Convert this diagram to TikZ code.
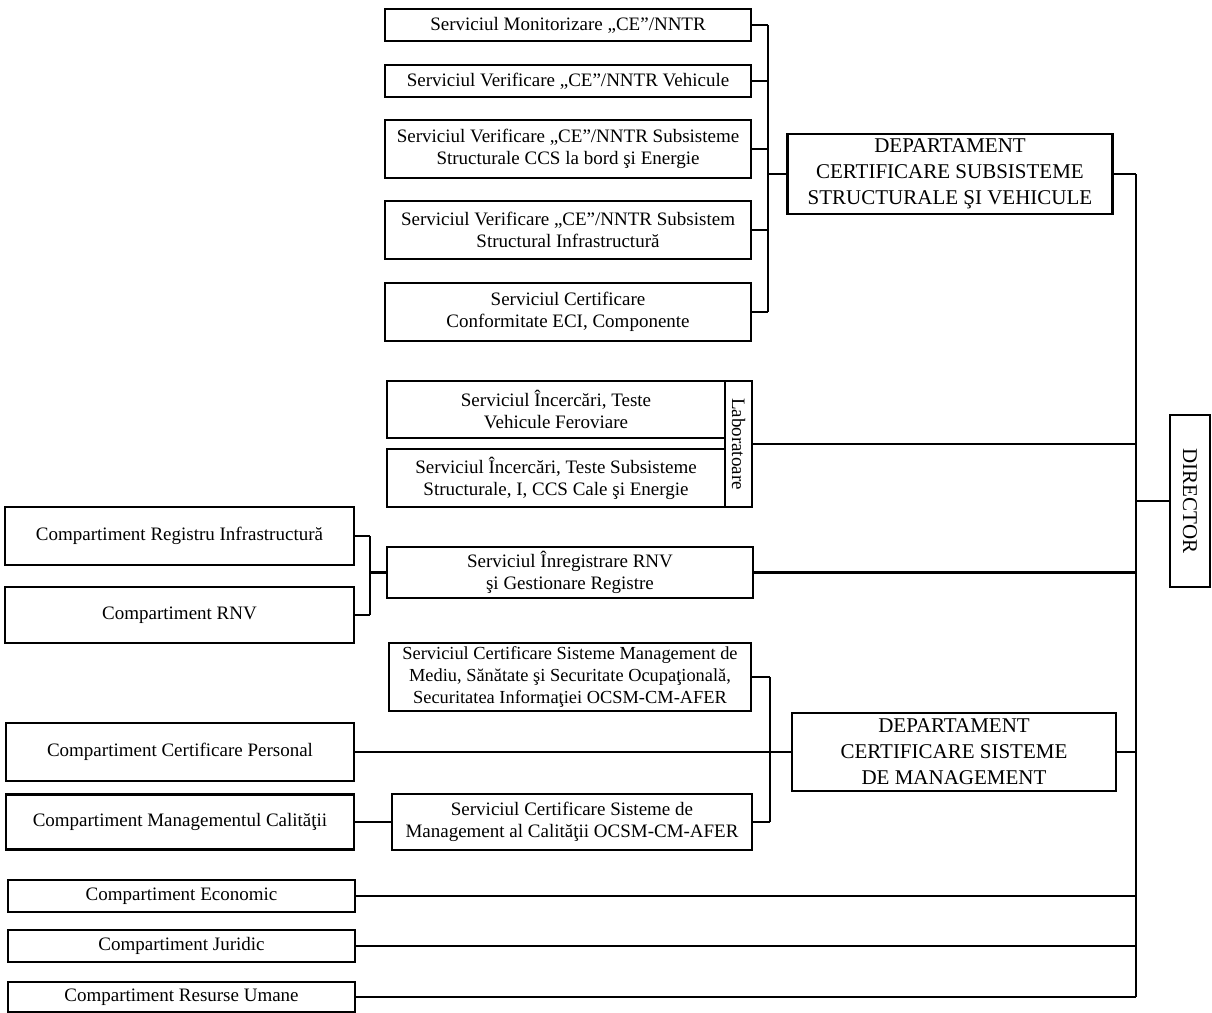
\documentclass[tikz,border=0pt]{standalone}
\usepackage{fontspec}
\setmainfont{Liberation Serif}
\usepackage{tikz}
\usetikzlibrary{positioning,calc}

\begin{document}
\begin{tikzpicture}[
  x=0.5pt, y=-0.5pt,
  unit/.style={draw, line width=1.1pt, inner sep=1pt, align=center,
               font=\fontsize{9.5}{11}\selectfont},
  dept/.style={unit, font=\fontsize{10.5}{13}\selectfont},
  link/.style={line width=1.1pt},
]
  \useasboundingbox (0,0) rectangle (1212,1013);

  % Serviciile departamentului de subsisteme structurale
  \node[unit, minimum width=183pt, minimum height=16pt] (mon) at (568,25)
    {Serviciul Monitorizare „CE”/NNTR};
  \node[unit, minimum width=183pt, minimum height=16pt] (veh) at (568,81)
    {Serviciul Verificare „CE”/NNTR Vehicule};
  \node[unit, minimum width=183pt, minimum height=29pt] (ccs) at (568,149)
    {Serviciul Verificare „CE”/NNTR Subsisteme\\Structurale CCS la bord şi Energie};
  \node[unit, minimum width=183pt, minimum height=29pt] (inf) at (568,230)
    {Serviciul Verificare „CE”/NNTR Subsistem\\Structural Infrastructură};
  \node[unit, minimum width=183pt, minimum height=29pt] (eci) at (568,312)
    {Serviciul Certificare\\Conformitate ECI, Componente};
  \node[dept, minimum width=162.5pt, minimum height=40pt] (dss) at (950,174)
    {DEPARTAMENT\\CERTIFICARE SUBSISTEME\\STRUCTURALE ŞI VEHICULE};

  % Laboratoare
  \node[unit, minimum width=169pt, minimum height=28.5pt] (la1) at (556,409.5)
    {Serviciul Încercări, Teste\\Vehicule Feroviare};
  \node[unit, minimum width=169pt, minimum height=29pt] (la2) at (556,478)
    {Serviciul Încercări, Teste Subsisteme\\Structurale, I, CCS Cale şi Energie};
  \node[unit, rotate=-90, inner sep=0pt, minimum width=63pt, minimum height=13.5pt]
    (lab) at (738.5,444) {Laboratoare};

  % Registre
  \node[unit, minimum width=183pt, minimum height=25.5pt] (rnvs) at (570,572.5)
    {Serviciul Înregistrare RNV\\şi Gestionare Registre};
  \node[unit, minimum width=174.5pt, minimum height=29pt] (reg) at (179.5,536)
    {Compartiment Registru Infrastructură};
  \node[unit, minimum width=174.5pt, minimum height=28pt] (crnv) at (179.5,615)
    {Compartiment RNV};

  % Sisteme de management
  \node[unit, minimum width=181pt, minimum height=34pt, inner sep=0pt,
        font=\fontsize{9.2}{11}\selectfont] (sm1) at (570,677)
    {Serviciul Certificare Sisteme Management de\\Mediu, Sănătate şi Securitate Ocupaţională,\\Securitatea Informaţiei OCSM-CM-AFER};
  \node[unit, minimum width=180pt, minimum height=28pt] (sm2) at (572,822)
    {Serviciul Certificare Sisteme de\\Management al Calităţii OCSM-CM-AFER};
  \node[dept, minimum width=162pt, minimum height=39pt] (dsm) at (954,752)
    {DEPARTAMENT\\CERTIFICARE SISTEME\\DE MANAGEMENT};
  \node[unit, minimum width=174pt, minimum height=29pt] (per) at (180,752)
    {Compartiment Certificare Personal};
  \node[unit, minimum width=174pt, minimum height=27.5pt] (cmc) at (180,822)
    {Compartiment Managementul Calităţii};

  % Compartimente subordonate direct
  \node[unit, minimum width=173.5pt, minimum height=16pt] (eco) at (181.5,896)
    {Compartiment Economic};
  \node[unit, minimum width=173.5pt, minimum height=16pt] (jur) at (181.5,946)
    {Compartiment Juridic};
  \node[unit, minimum width=173.5pt, minimum height=15pt] (ru) at (181.5,997)
    {Compartiment Resurse Umane};

  % Director
  \node[dept, rotate=-90, minimum width=86pt, minimum height=20pt] (dir) at (1190,501)
    {DIRECTOR};

  % Bare verticale
  \coordinate (bA) at (768,0);
  \coordinate (bL) at (370,0);
  \coordinate (bM) at (770,0);
  \coordinate (bD) at (1136,0);

  \foreach \n in {mon,veh,ccs,inf,eci}
    \draw[link] (\n.east) -- (\n.east -| bA);
  \draw[link] (mon.east -| bA) -- (eci.east -| bA);
  \draw[link] (dss.west) -- (dss.west -| bA);

  \foreach \n in {reg,crnv}
    \draw[link] (\n.east) -- (\n.east -| bL);
  \draw[link] (reg.east -| bL) -- (crnv.east -| bL);
  \draw[link] (rnvs.west) -- (rnvs.west -| bL);

  \foreach \n in {sm1,sm2}
    \draw[link] (\n.east) -- (\n.east -| bM);
  \draw[link] (sm1.east -| bM) -- (sm2.east -| bM);
  \draw[link] (per.east) -- (dsm.west);
  \draw[link] (cmc.east) -- (sm2.west);

  % Legaturi spre director
  \draw[link] (dss.east) -- (dss.east -| bD);
  \draw[link] (lab.north) -- (lab.north -| bD);
  \draw[link] (rnvs.east) -- (rnvs.east -| bD);
  \draw[link] (dsm.east) -- (dsm.east -| bD);
  \foreach \n in {eco,jur,ru}
    \draw[link] (\n.east) -- (\n.east -| bD);
  \draw[link] (dss.east -| bD) -- (ru.east -| bD);
  \draw[link] (dir.south) -- (dir.south -| bD);

\end{tikzpicture}
\end{document}
